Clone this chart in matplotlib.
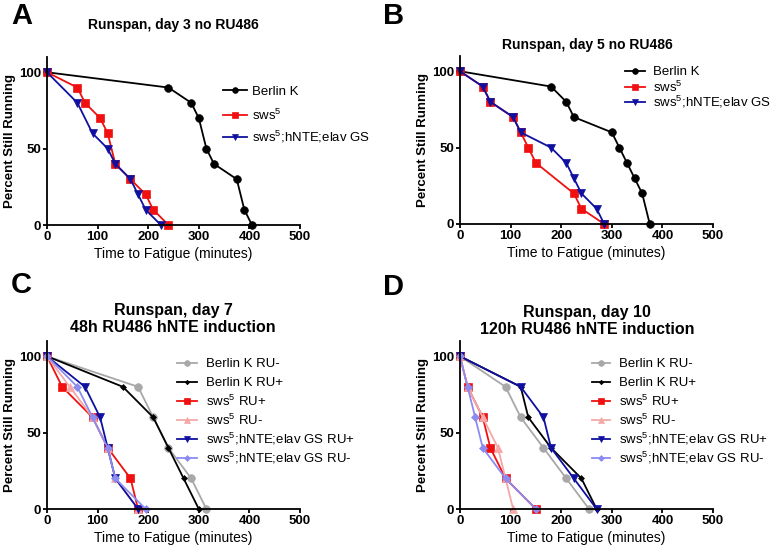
import numpy as np
import matplotlib
matplotlib.use("Agg")
import matplotlib.pyplot as plt
from matplotlib.legend import Legend

plt.rcParams['font.family'] = ['Liberation Sans', 'DejaVu Sans']
plt.rcParams['mathtext.default'] = 'regular'

# Panel A - day 3, no RU486
a_berlin_x = [0, 240, 285, 300, 315, 330, 375, 390, 405]
a_berlin_y = [100, 90, 80, 70, 50, 40, 30, 10, 0]
a_sws_x = [0, 60, 75, 105, 120, 135, 165, 195, 210, 240]
a_sws_y = [100, 90, 80, 70, 60, 40, 30, 20, 10, 0]
a_hnte_x = [0, 60, 90, 120, 135, 165, 180, 195, 225]
a_hnte_y = [100, 80, 60, 50, 40, 30, 20, 10, 0]

# Panel B - day 5, no RU486
b_berlin_x = [0, 180, 210, 225, 300, 315, 330, 345, 360, 375]
b_berlin_y = [100, 90, 80, 70, 60, 50, 40, 30, 20, 0]
b_sws_x = [0, 45, 60, 105, 120, 135, 150, 225, 240, 285]
b_sws_y = [100, 90, 80, 70, 60, 50, 40, 20, 10, 0]
b_hnte_x = [0, 45, 60, 105, 120, 180, 210, 225, 240, 270, 285]
b_hnte_y = [100, 90, 80, 70, 60, 50, 40, 30, 20, 10, 0]

# Panel C - day 7, 48h RU486
surv_y = [100, 80, 60, 40, 20, 0]
c_berlin_minus_x = [0, 180, 210, 240, 285, 315]
c_berlin_plus_x = [0, 150, 210, 240, 270, 300]
c_sws_plus_x = [0, 30, 90, 120, 165, 180]
c_sws_minus_x = [0, 45, 90, 120, 135, 180]
c_hnte_plus_x = [0, 75, 105, 120, 135, 180]
c_hnte_minus_x = [0, 60, 90, 120, 135, 195]

# Panel D - day 10, 120h RU486
d_berlin_minus_x = [0, 90, 120, 165, 210, 255]
d_berlin_plus_x = [0, 120, 135, 180, 240, 270]
d_sws_plus_x = [0, 15, 45, 60, 90, 150]
d_sws_minus_x = [0, 15, 45, 75, 90, 105]
d_hnte_plus_x = [0, 120, 165, 180, 225, 270]
d_hnte_minus_x = [0, 15, 30, 45, 90, 150]

labels_ab = ["Berlin K", "sws$^5$", "sws$^5$;hNTE;elav GS"]
labels_cd = ["Berlin K RU-", "Berlin K RU+", "sws$^5$ RU+", "sws$^5$ RU-",
             "sws$^5$;hNTE;elav GS RU+", "sws$^5$;hNTE;elav GS RU-"]

BLACK = "#000000"
RED = "#f01010"
BLUE = "#1010a0"
GRAY = "#a8a8a8"
PINK = "#f4a8a8"
LBLUE = "#8c8cf0"

W, H = 772, 551
AX_W, AX_H = 253, 168
fig = plt.figure(figsize=(W/100, H/100), dpi=100)


def make_axes(left, bottom_px):
    ax = fig.add_axes([left/W, 1 - bottom_px/H, AX_W/W, AX_H/H])
    ax.set_xlim(0, 500)
    ax.set_ylim(0, 110)
    ax.set_xticks([0, 100, 200, 300, 400, 500])
    ax.set_yticks([0, 50, 100])
    for s in ["top", "right"]:
        ax.spines[s].set_visible(False)
    for s in ["left", "bottom"]:
        ax.spines[s].set_linewidth(1.3)
    ax.tick_params(width=1.3, length=3, labelsize=9.5, pad=1.2)
    for lab in ax.get_xticklabels() + ax.get_yticklabels():
        lab.set_fontweight("bold")
    ax.set_xlabel("Time to Fatigue (minutes)", fontsize=10, labelpad=3)
    ax.set_ylabel("Percent Still Running", fontsize=9.5, fontweight="bold", labelpad=2)
    ax.left_px, ax.bottom_px = left, bottom_px
    return ax


def curve(ax, x, y, color, marker, ms, label):
    line, = ax.plot(x, y, color=color, marker=marker, markersize=ms, linewidth=1.3,
                    markeredgewidth=0.5, markeredgecolor=color, label=label, clip_on=False)
    return line


def legend_rows(ax, lines, x_px, rows_px, handle_px, pad_px):
    # one single-entry legend per row, so each row sits where the figure has it
    fs_px = 9.5 * 100 / 72
    xf = (x_px - ax.left_px) / AX_W
    for line, y_px in zip(lines, rows_px):
        yf = (ax.bottom_px - y_px) / AX_H
        lg = Legend(ax, [line], [line.get_label()], loc="center left",
                    bbox_to_anchor=(xf, yf), frameon=False, fontsize=9.5,
                    handlelength=handle_px/fs_px, handletextpad=pad_px/fs_px,
                    borderpad=0, borderaxespad=0, markerscale=0.75)
        ax.add_artist(lg)


axA = make_axes(47, 225)
la = [curve(axA, a_berlin_x, a_berlin_y, BLACK, "o", 5.5, labels_ab[0]),
      curve(axA, a_sws_x, a_sws_y, RED, "s", 5.5, labels_ab[1]),
      curve(axA, a_hnte_x, a_hnte_y, BLUE, "v", 5.5, labels_ab[2])]
legend_rows(axA, la, 223, [92, 115, 137], 24, 5)

axB = make_axes(460, 224)
lb = [curve(axB, b_berlin_x, b_berlin_y, BLACK, "o", 5.5, labels_ab[0]),
      curve(axB, b_sws_x, b_sws_y, RED, "s", 5.5, labels_ab[1]),
      curve(axB, b_hnte_x, b_hnte_y, BLUE, "v", 5.5, labels_ab[2])]
legend_rows(axB, lb, 625, [72, 87, 102], 20, 8)

rows_cd = [364, 383, 401, 420, 439, 458]

axC = make_axes(47, 509)
lc = [curve(axC, c_berlin_minus_x, surv_y, GRAY, "o", 5.5, labels_cd[0]),
      curve(axC, c_berlin_plus_x, surv_y, BLACK, "D", 3, labels_cd[1]),
      curve(axC, c_sws_plus_x, surv_y, RED, "s", 5.5, labels_cd[2]),
      curve(axC, c_sws_minus_x, surv_y, PINK, "^", 5.5, labels_cd[3]),
      curve(axC, c_hnte_plus_x, surv_y, BLUE, "v", 5.5, labels_cd[4]),
      curve(axC, c_hnte_minus_x, surv_y, LBLUE, "D", 4, labels_cd[5])]
legend_rows(axC, lc, 177, rows_cd, 20, 9)

axD = make_axes(460, 509)
ld = [curve(axD, d_berlin_minus_x, surv_y, GRAY, "o", 5.5, labels_cd[0]),
      curve(axD, d_berlin_plus_x, surv_y, BLACK, "D", 3, labels_cd[1]),
      curve(axD, d_sws_plus_x, surv_y, RED, "s", 5.5, labels_cd[2]),
      curve(axD, d_sws_minus_x, surv_y, PINK, "^", 5.5, labels_cd[3]),
      curve(axD, d_hnte_plus_x, surv_y, BLUE, "v", 5.5, labels_cd[4]),
      curve(axD, d_hnte_minus_x, surv_y, LBLUE, "D", 4, labels_cd[5])]
legend_rows(axD, ld, 592, rows_cd, 18, 9)

# titles and panel letters
fig.text(173/W, 1 - 25/H, "Runspan, day 3 no RU486", ha="center", va="center",
         fontsize=10, fontweight="bold")
fig.text(587/W, 1 - 45/H, "Runspan, day 5 no RU486", ha="center", va="center",
         fontsize=10, fontweight="bold")
fig.text(173/W, 1 - 319/H, "Runspan, day 7\n48h RU486 hNTE induction", ha="center",
         va="center", fontsize=11.5, fontweight="bold", linespacing=1.12)
fig.text(587/W, 1 - 321/H, "Runspan, day 10\n120h RU486 hNTE induction", ha="center",
         va="center", fontsize=11.5, fontweight="bold", linespacing=1.12)

for lx, ly, letter in [(11, 16, "A"), (383, 16, "B"), (11, 285, "C"), (383, 287, "D")]:
    fig.text(lx/W, 1 - ly/H, letter, ha="left", va="center", fontsize=21, fontweight="bold")

fig.savefig("out.png", dpi=100)
